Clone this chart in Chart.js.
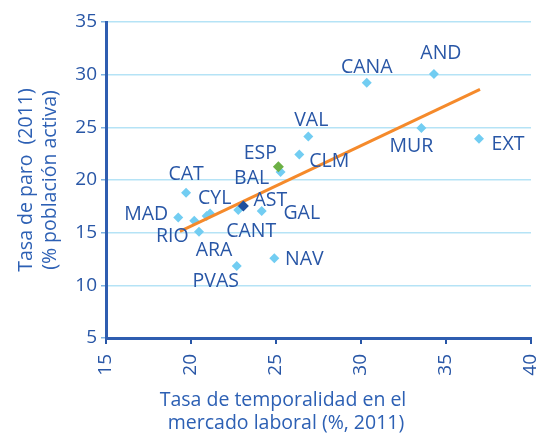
<!DOCTYPE html>
<html><head><meta charset="utf-8">
<script src="https://cdn.jsdelivr.net/npm/chart.js@4/dist/chart.umd.min.js"></script>
<style>html,body{margin:0;padding:0;background:#fff}#wrap{width:548px;height:439px;position:relative}</style>
</head><body><div id="wrap"><canvas id="c" width="548" height="439"></canvas></div>
<script>
// Regions (CCAA)
const regions = ['CANA','AND','MUR','EXT','VAL','CLM','BAL','CAT','MAD','RIO','CYL','','CANT','GAL','ARA','NAV','PVAS'];
// Tasa de temporalidad (%, 2011)
const temporalidad = [30.34,34.29,33.55,36.94,26.9,26.37,25.27,19.71,19.25,20.19,20.92,21.12,22.78,24.16,20.47,24.9,22.69];
// Tasa de paro (2011)
const paro = [29.24,30.06,24.93,23.92,24.14,22.43,20.75,18.79,16.45,16.13,16.58,16.83,17.15,17.05,15.09,12.56,11.83];
// Spain total
const espLabel = ['ESP'];
const espTemporalidad = [25.14];
const espParo = [21.26];
// Highlighted region
const astLabel = ['AST'];
const astTemporalidad = [23.08];
const astParo = [17.53];
// Trend line endpoints
const trendX = [19.35, 37.0];
const trendY = [15.12, 28.61];
// Axis ticks
const xTicks = [15,20,25,30,35,40];
const yTicks = [5,10,15,20,25,30,35];

const labelOffsets = {
  CANA:[0,-17], AND:[7,-22], MUR:[-10,17], EXT:[29,4], VAL:[3,-17], CLM:[30,6],
  ESP:[-18,-15], BAL:[-29,5], CAT:[0,-20], MAD:[-32,-4], RIO:[-22,14], CYL:[8,-19],
  CANT:[13,20], AST:[27,-7], GAL:[40,1], ARA:[15,17], NAV:[30,0], PVAS:[-21,14]
};

const BLUE = '#2856a6';
const FONT = '"Open Sans", sans-serif';

const toPts = (xs, ys) => xs.map((x,i)=>({x, y: ys[i]}));

const labelPlugin = {
  id: 'labels',
  afterDatasetsDraw(chart) {
    const ctx = chart.ctx;
    ctx.save();
    ctx.fillStyle = BLUE;
    ctx.font = '19.5px ' + FONT;
    ctx.textAlign = 'center';
    ctx.textBaseline = 'alphabetic';
    chart.data.datasets.forEach((ds, di) => {
      if (!ds.pointLabels) return;
      const meta = chart.getDatasetMeta(di);
      meta.data.forEach((el, i) => {
        const name = ds.pointLabels[i];
        if (!name) return;
        const off = labelOffsets[name] || [0,-15];
        ctx.fillText(name, el.x + off[0], el.y + off[1] + 7);
      });
    });
    ctx.restore();
  },
  afterDraw(chart) {
    const ctx = chart.ctx;
    ctx.save();
    ctx.fillStyle = '#2d60b4';
    ctx.font = '19.5px ' + FONT;
    ctx.textAlign = 'center';
    ctx.textBaseline = 'middle';
    ctx.fillText('Tasa de temporalidad en el', 283, 400);
    ctx.fillText('mercado laboral (%, 2011)', 286, 423);
    ctx.translate(26, 180);
    ctx.rotate(-Math.PI/2);
    ctx.fillText('Tasa de paro  (2011)', 0, 0);
    ctx.fillText('(% población activa)', 0, 24);
    ctx.restore();
  }
};

new Chart(document.getElementById('c'), {
  type: 'scatter',
  data: {
    datasets: [
      { label: 'AST', data: toPts(astTemporalidad, astParo), pointLabels: astLabel,
        pointStyle: 'rectRot', pointRadius: 5.5, backgroundColor: '#1f4f9e', borderColor: '#1f4f9e', borderWidth: 0 },
      { label: 'ESP', data: toPts(espTemporalidad, espParo), pointLabels: espLabel,
        pointStyle: 'rectRot', pointRadius: 5.5, backgroundColor: '#6cb045', borderColor: '#6cb045', borderWidth: 0 },
      { label: 'Tendencia', data: toPts(trendX, trendY), showLine: true, pointRadius: 0,
        borderColor: '#f58a2b', borderWidth: 3, fill: false },
      { label: 'CCAA', data: toPts(temporalidad, paro), pointLabels: regions,
        pointStyle: 'rectRot', pointRadius: 5, backgroundColor: '#72cdf2', borderColor: '#72cdf2', borderWidth: 0 }
    ]
  },
  options: {
    responsive: false,
    animation: false,
    layout: { padding: { top: 22, right: 17, left: 0, bottom: 0 } },
    plugins: { legend: { display: false }, tooltip: { enabled: false } },
    scales: {
      x: {
        type: 'linear', min: 15, max: 40,
        afterBuildTicks: s => { s.ticks = xTicks.map(v => ({value: v})); },
        afterFit: s => { s.height = 101; s.paddingRight = 0; s.paddingLeft = 0; },
        ticks: { color: BLUE, font: { size: 19, family: FONT }, minRotation: 90, maxRotation: 90, padding: 10 },
        grid: { drawOnChartArea: false, tickLength: 6, color: BLUE, tickColor: BLUE, lineWidth: 2 },
        border: { color: '#2f5db0', width: 3 }
      },
      y: {
        type: 'linear', min: 5, max: 35,
        afterBuildTicks: s => { s.ticks = yTicks.map(v => ({value: v})); },
        afterFit: s => { s.width = 106; s.paddingTop = 0; s.paddingBottom = 0; },
        ticks: { color: BLUE, font: { size: 19, family: FONT }, padding: 4 },
        grid: { drawOnChartArea: true, tickLength: 5, color: '#b5e3f6', tickColor: '#7fb3e0', lineWidth: 1.5 },
        border: { color: '#2f5db0', width: 3 }
      }
    }
  },
  plugins: [labelPlugin]
});
</script>
</body></html>
